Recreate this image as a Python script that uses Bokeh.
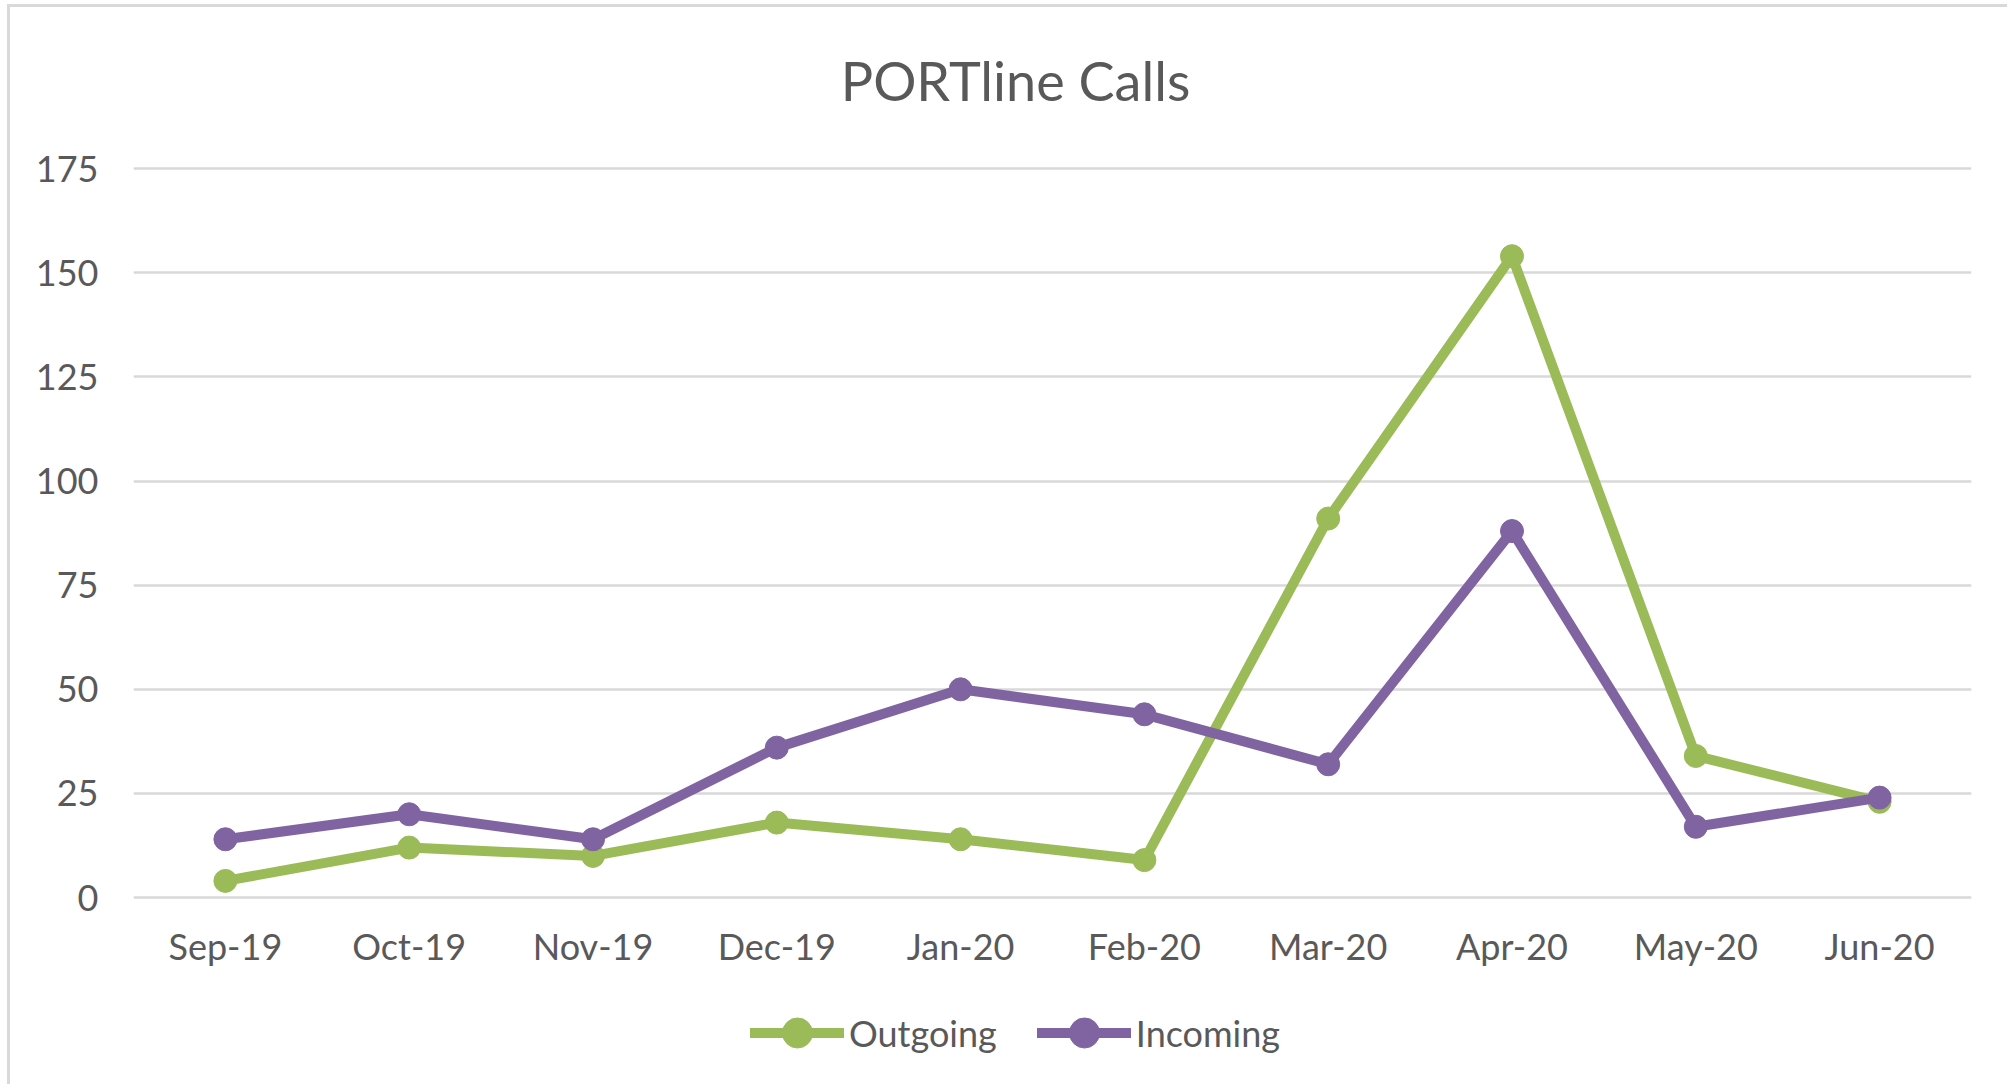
from bokeh.plotting import figure
from bokeh.models import (FactorRange, Range1d, FixedTicker, Legend, LegendItem, Label)
from bokeh.embed import file_html
from bokeh.resources import INLINE

months = ["Sep-19", "Oct-19", "Nov-19", "Dec-19", "Jan-20",
          "Feb-20", "Mar-20", "Apr-20", "May-20", "Jun-20"]
outgoing = [4, 12, 10, 18, 14, 9, 91, 154, 34, 23]
incoming = [14, 20, 14, 36, 50, 44, 32, 88, 17, 24]
y_ticks = [0, 25, 50, 75, 100, 125, 150, 175]
title_text = "PORTline Calls"

GREEN = "#9BBB59"
PURPLE = "#8064A2"
TEXT = "#595959"
FONT = "Lato"

# frame spans the full canvas height; the axis-value window 0..175 sits inside it
p = figure(width=2000, height=1080, x_range=FactorRange(*months),
           y_range=Range1d(-45.6, 213.7), output_backend="svg", toolbar_location=None,
           min_border_left=123, min_border_right=39, min_border_top=0,
           min_border_bottom=0,
           styles={"border-left": "3px solid #D9D9D9", "border-top": "3px solid #D9D9D9",
                   "margin-left": "7px", "margin-top": "4px"})
p.outline_line_color = None
p.background_fill_color = "white"
p.border_fill_color = "white"

p.xgrid.grid_line_color = None
p.ygrid.grid_line_color = "#D9D9D9"
p.ygrid.grid_line_width = 2.5
p.yaxis.ticker = FixedTicker(ticks=y_ticks)
p.xaxis.fixed_location = 0

for ax in (p.xaxis[0], p.yaxis[0]):
    ax.axis_line_color = None
    ax.major_tick_line_color = None
    ax.minor_tick_line_color = None
    ax.major_label_text_font = FONT
    ax.major_label_text_font_size = "36px"
    ax.major_label_text_color = TEXT
p.xaxis.major_label_standoff = 20
p.yaxis.major_label_standoff = 29

items = []
for name, vals, col in (("Outgoing", outgoing, GREEN), ("Incoming", incoming, PURPLE)):
    lr = p.line(months, vals, line_color=col, line_width=10, line_join="round", line_cap="round")
    sr = p.scatter(months, vals, size=23, fill_color=col, line_color=col)
    items.append(LegendItem(label=name, renderers=[lr, sr]))

legend = Legend(items=items, orientation="horizontal", location=(617, 17),
                padding=0, margin=0, spacing=40, label_standoff=5,
                glyph_width=94, glyph_height=75, label_height=75,
                label_text_font=FONT, label_text_font_size="36px",
                label_text_color=TEXT, border_line_color=None,
                background_fill_alpha=0)
p.add_layout(legend)

title = Label(x=882, y=1007, x_units="screen", y_units="screen", text=title_text,
              text_align="center", text_baseline="middle", text_font=FONT,
              text_font_size="54px", text_color=TEXT)
p.add_layout(title)

open("out.html", "w").write(file_html(p, INLINE))
